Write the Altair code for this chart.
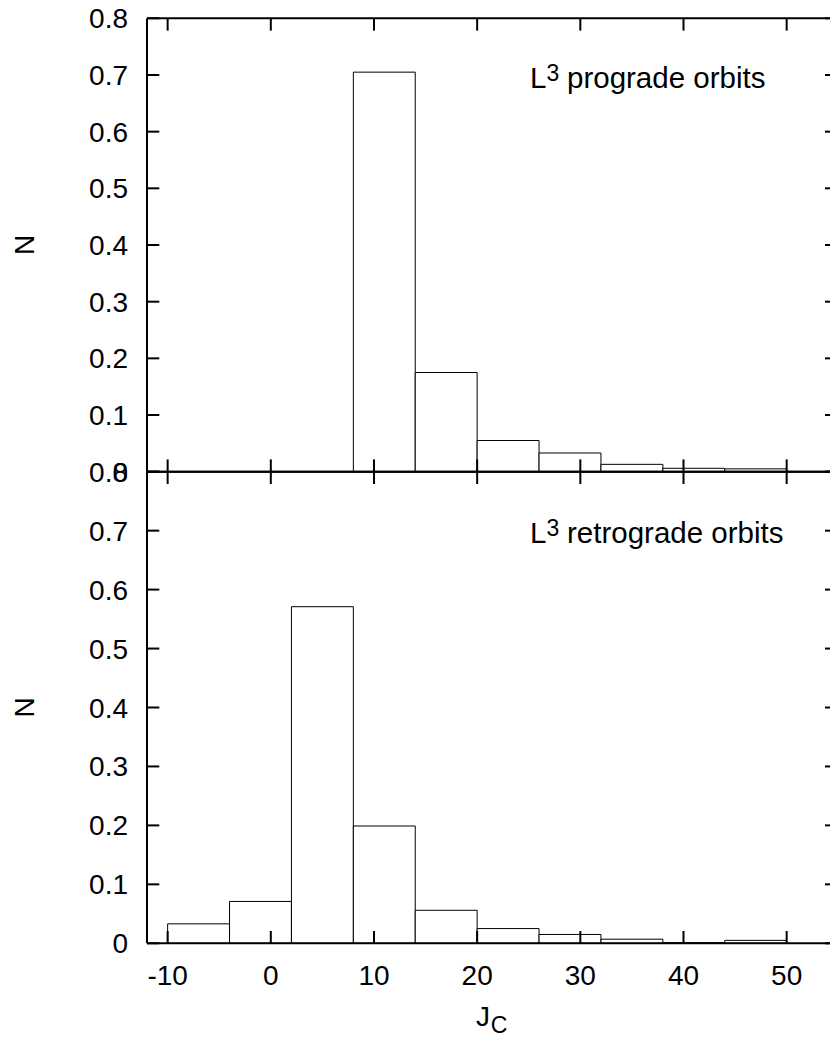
import altair as alt
import pandas as pd

# Histogram of the Jacobi constant J_C for L3 orbits (bin width 6)
bin_lo = [-10, -4, 2, 8, 14, 20, 26, 32, 38, 44]
bin_hi = [-4, 2, 8, 14, 20, 26, 32, 38, 44, 50]
prograde = [0.0, 0.0, 0.0, 0.705, 0.175, 0.055, 0.033, 0.013, 0.006, 0.005]
retrograde = [0.033, 0.071, 0.571, 0.199, 0.056, 0.025, 0.015, 0.007, 0.001, 0.005]

x_tick_values = [-10, 0, 10, 20, 30, 40, 50]
x_tick_labels = ["-10", "0", "10", "20", "30", "40", "50"]
y_tick_values = [0.0, 0.1, 0.2, 0.3, 0.4, 0.5, 0.6, 0.7, 0.8]
y_tick_labels = ["0", "0.1", "0.2", "0.3", "0.4", "0.5", "0.6", "0.7", "0.8"]

FONT = "Liberation Sans"
FS = 28            # tick label size
FS_NOTE = 29.5     # panel annotation size
W = 683.0          # plot width
HT = 453.4         # upper panel height
HB = 471.6         # lower panel height
H = HT + HB
TICK = 12.3
PAD_L = 147.0
PAD_T = 18.3
TOTAL_H = 1037.0

bins = pd.DataFrame({"lo": bin_lo, "hi": bin_hi, "pro": prograde, "retro": retrograde})
ytk = pd.DataFrame({"v": y_tick_values, "lab": y_tick_labels})
xtk = pd.DataFrame({"t": x_tick_values, "lab": x_tick_labels})
one = pd.DataFrame({"k": [0]})

x_scale = alt.Scale(domain=[-12, 54.2], nice=False, zero=False)
# both panels share one drawing area; each y scale places 0..0.8 inside its own band
top_scale = alt.Scale(domain=[0.8 * (1 - H / HT), 0.8], nice=False, zero=False)
bot_scale = alt.Scale(domain=[0, 0.8 * H / HB], nice=False, zero=False)


def rule(**enc):
    return alt.Chart(one).mark_rule(color="black", strokeWidth=2).encode(**enc)


def panel(field, y_scale, y0, y1, word):
    bars = (
        alt.Chart(bins)
        .transform_filter(alt.datum[field] > 0)
        .mark_rect(fill="white", stroke="black", strokeWidth=1)
        .encode(
            x=alt.X("lo:Q", scale=x_scale, axis=None),
            x2="hi:Q",
            y=alt.Y(f"{field}:Q", scale=y_scale, axis=None),
            y2=alt.datum(0),
        )
    )
    ylabels = alt.Chart(ytk).mark_text(
        align="right", baseline="middle", dy=2, fontSize=FS, font=FONT, color="black"
    ).encode(
        y=alt.Y("v:Q", scale=y_scale, axis=None), x=alt.value(-19), text="lab:N"
    )
    yticks_l = alt.Chart(ytk).mark_rule(color="black", strokeWidth=2).encode(
        y=alt.Y("v:Q", scale=y_scale, axis=None), x=alt.value(0), x2=alt.value(TICK)
    )
    yticks_r = alt.Chart(ytk).mark_rule(color="black", strokeWidth=2).encode(
        y=alt.Y("v:Q", scale=y_scale, axis=None), x=alt.value(W - 5), x2=alt.value(W)
    )
    xticks_top = alt.Chart(xtk).mark_rule(color="black", strokeWidth=2).encode(
        x=alt.X("t:Q", scale=x_scale, axis=None), y=alt.value(y0), y2=alt.value(y0 + TICK)
    )
    xticks_bot = alt.Chart(xtk).mark_rule(color="black", strokeWidth=2).encode(
        x=alt.X("t:Q", scale=x_scale, axis=None), y=alt.value(y1 - TICK), y2=alt.value(y1)
    )
    frame = [
        rule(x=alt.value(0), y=alt.value(y0), y2=alt.value(y1)),
        rule(x=alt.value(0), x2=alt.value(W), y=alt.value(y0)),
        rule(x=alt.value(0), x2=alt.value(W), y=alt.value(y1)),
    ]
    base = y0 + 70.0 + (1.5 if y0 > 0 else 0)
    txt = dict(font=FONT, color="black", align="left", baseline="alphabetic")
    note = [
        alt.Chart(one).mark_text(fontSize=FS_NOTE, **txt).encode(
            x=alt.value(383), y=alt.value(base), text=alt.value("L")),
        alt.Chart(one).mark_text(fontSize=23, **txt).encode(
            x=alt.value(399.5), y=alt.value(base - 7), text=alt.value("3")),
        alt.Chart(one).mark_text(fontSize=FS_NOTE, **txt).encode(
            x=alt.value(420), y=alt.value(base), text=alt.value(word)),
    ]
    ytitle = alt.Chart(one).mark_text(
        fontSize=FS, font=FONT, color="black", angle=270, align="center", baseline="middle"
    ).encode(x=alt.value(-121), y=alt.value((y0 + y1) / 2), text=alt.value("N"))
    layers = [bars, ylabels, yticks_l, yticks_r, xticks_top, xticks_bot] + frame + note + [ytitle]
    return alt.layer(*layers)


top = panel("pro", top_scale, 0.0, HT, "prograde orbits")
bottom = panel("retro", bot_scale, HT, H, "retrograde orbits")

# tick labels along the bottom axis
xlabels = alt.Chart(xtk).mark_text(
    align="center", baseline="alphabetic", fontSize=FS, font=FONT, color="black"
).encode(
    x=alt.X("t:Q", scale=x_scale, axis=None), y=alt.value(H + 41.7), text="lab:N"
)

txt = dict(font=FONT, color="black", align="left", baseline="alphabetic")
xtitle = alt.layer(
    alt.Chart(one).mark_text(fontSize=FS, **txt).encode(
        x=alt.value(329), y=alt.value(1026 - PAD_T), text=alt.value("J")),
    alt.Chart(one).mark_text(fontSize=23, **txt).encode(
        x=alt.value(343.7), y=alt.value(1033 - PAD_T), text=alt.value("C")),
)

chart = (
    alt.layer(top, bottom, xlabels, xtitle)
    .resolve_scale(y="independent")
    .properties(
        width=W,
        height=H,
        padding={"left": PAD_L, "top": PAD_T, "right": 0, "bottom": TOTAL_H - PAD_T - H},
        autosize=alt.AutoSizeParams(type="none"),
    )
    .configure_view(stroke=None)
)

chart.save("out.html", embed_options={"renderer": "svg", "actions": False})
